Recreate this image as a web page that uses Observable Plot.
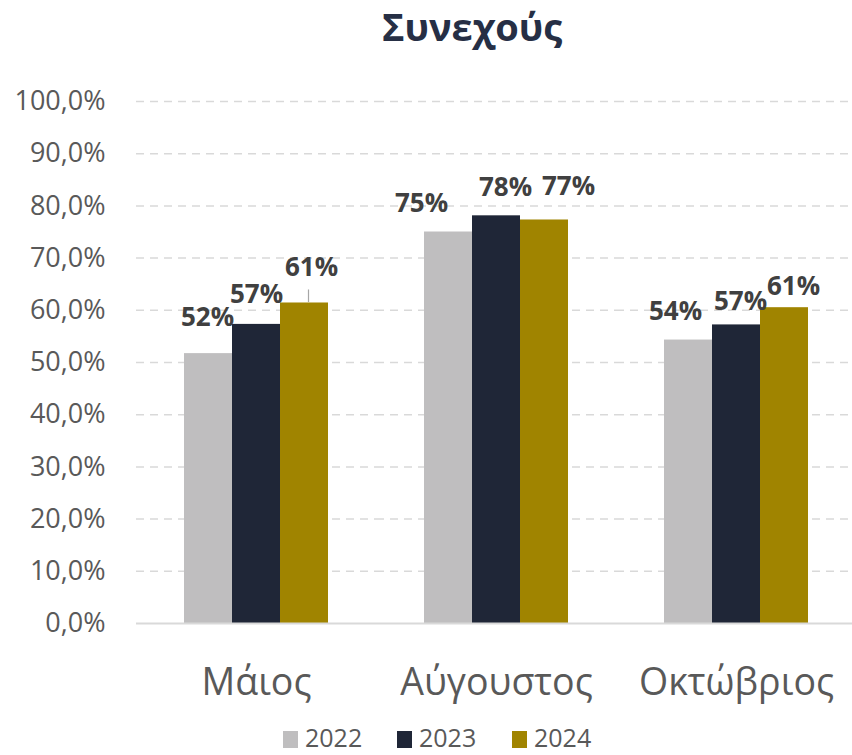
<!DOCTYPE html>
<html>
<head>
<meta charset="utf-8">
<script src="https://cdn.jsdelivr.net/npm/d3@7"></script>
<script src="https://cdn.jsdelivr.net/npm/@observablehq/plot@0.6"></script>
<style>
  html, body { margin: 0; padding: 0; background: #fff; overflow: hidden; width: 852px; height: 755px; }
  body { position: relative; font-family: "Open Sans", sans-serif; }
  #title { position: absolute; left: 272px; width: 400px; top: 0px; text-align: center; font-size: 38px; line-height: 52px; font-weight: 700; color: #262F45; }
  #chart { position: absolute; left: 0; top: 0; width: 860px; }
  #chart svg { max-width: none !important; }
  .leg { position: absolute; top: 720px; font-size: 25px; line-height: 34px; color: #595959; white-space: nowrap; }
  .leg span.sw { display: inline-block; vertical-align: top; margin-top: 11px; width: 15px; height: 17px; margin-right: 7px; }
  .leg span.tx { display: inline-block; vertical-align: top; }
</style>
</head>
<body>
<div id="title">Συνεχούς</div>
<div id="chart"></div>
<div id="legend"></div>
<script>
const months = ["Μάιος", "Αύγουστος", "Οκτώβριος"];
const years = ["2022", "2023", "2024"];
const values2022 = [51.7, 75.0, 54.3];
const values2023 = [57.3, 78.1, 57.2];
const values2024 = [61.4, 77.3, 60.5];
const yTicks = [0, 10, 20, 30, 40, 50, 60, 70, 80, 90, 100];
const colors = ["#BFBEBF", "#1F2637", "#A08400"];

const series = [values2022, values2023, values2024];
const rows = months.flatMap((m, i) => years.map((y, j) => ({month: m, year: y, value: series[j][i]})));

// label placement nudges (dx, gap above bar top in px), as in the reference
const nudges = {
  "Μάιος": [[-1, 28], [0, 21], [7, 27]],
  "Αύγουστος": [[-27, 20], [9, 20], [24, 25]],
  "Οκτώβριος": [[-13, 20], [4, 15], [9, 13]]
};

const labelMarks = rows.map(d => {
  const [dx, gap] = nudges[d.month][years.indexOf(d.year)];
  return Plot.text([d], {
    fx: "month", x: "year", y: "value",
    text: r => Math.round(r.value) + "%",
    dx, dy: -gap, lineAnchor: "bottom",
    fontSize: 26, fontWeight: 700, fill: "#404040"
  });
});

const leader = rows.filter(d => d.month === "Μάιος" && d.year === "2024");

const chart = Plot.plot({
  width: 860,
  height: 710,
  marginLeft: 136,
  marginRight: 4,
  marginTop: 101,
  marginBottom: 87,
  style: {fontFamily: "Open Sans, sans-serif", background: "transparent", overflow: "visible", maxWidth: "none"},
  fx: {domain: months, padding: 0, label: null},
  x: {domain: years, paddingInner: 0, paddingOuter: 1, axis: null},
  y: {type: "linear", domain: [0, 100], label: null},
  color: {domain: years, range: colors},
  marks: [
    Plot.ruleY(yTicks.filter(t => t > 0), {stroke: "#D9D9D9", strokeWidth: 1.5, strokeDasharray: "8,6"}),
    Plot.barY(rows, {fx: "month", x: "year", y: "value", fill: "year"}),
    Plot.ruleY([0], {stroke: "#D9D9D9", strokeWidth: 2}),
    Plot.link(leader, {fx: "month", x1: "year", x2: "year", y1: "value", y2: d => d.value + 2.4, dx: 4, dy: -1, stroke: "#A6A6A6", strokeWidth: 1.2}),
    Plot.axisY({ticks: yTicks, tickSize: 0, tickPadding: 31, fontSize: 27, fill: "#595959", label: null,
      tickFormat: d => d.toFixed(1).replace(".", ",") + "%"}),
    Plot.axisFx({anchor: "bottom", tickSize: 0, tickPadding: 45, fontSize: 37.5, fill: "#595959", label: null}),
    ...labelMarks
  ]
});
document.getElementById("chart").appendChild(chart);

const legendLefts = [283, 397, 512];
const legend = document.getElementById("legend");
years.forEach((y, i) => {
  const item = document.createElement("div");
  item.className = "leg";
  item.style.left = legendLefts[i] + "px";
  const sw = document.createElement("span");
  sw.className = "sw";
  sw.style.background = colors[i];
  const tx = document.createElement("span");
  tx.className = "tx";
  tx.textContent = y;
  item.appendChild(sw);
  item.appendChild(tx);
  legend.appendChild(item);
});
</script>
</body>
</html>
